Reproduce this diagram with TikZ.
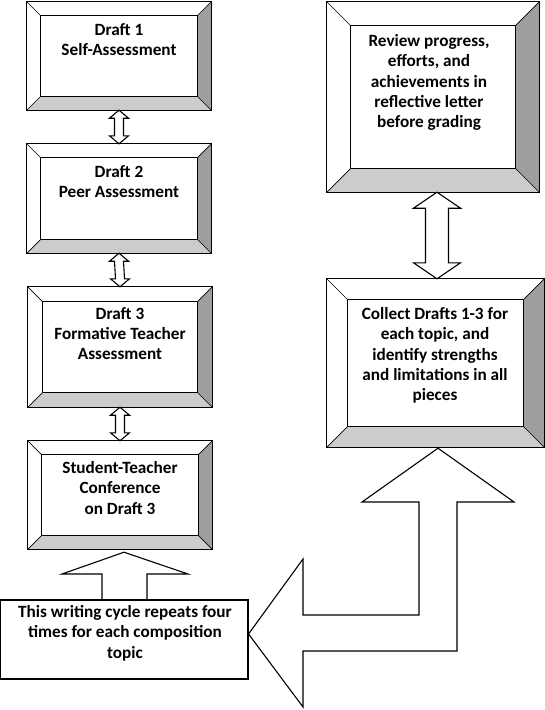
\documentclass[tikz,border=0pt]{standalone}
\usepackage{fontspec}
\setmainfont{Carlito}
\usetikzlibrary{calc,fit}
\definecolor{bevR}{gray}{0.62}
\definecolor{bevB}{gray}{0.8}
\tikzset{
  txt/.style={font=\fontsize{17.2}{20.4}\selectfont\bfseries, align=center, inner sep=0pt, anchor=north},
  fatarrow/.style={draw=black, fill=white, line width=1.1pt, line join=miter},
  outerline/.style={draw=black, line width=1.3pt},
  innerline/.style={draw=black, line width=0.7pt},
}
\newcommand{\bevbox}[6]{%
  \node[fit={(#2,#3) (#4,#5)}, inner sep=0pt, fill=white] (#1) {};
  \coordinate (#1-a) at ($(#1.north west)+(#6,#6)$);
  \coordinate (#1-b) at ($(#1.north east)+(-#6,#6)$);
  \coordinate (#1-c) at ($(#1.south east)+(-#6,-#6)$);
  \coordinate (#1-d) at ($(#1.south west)+(#6,-#6)$);
  \fill[bevR] (#1.north east) -- (#1.south east) -- (#1-c) -- (#1-b) -- cycle;
  \fill[bevB] (#1.south west) -- (#1.south east) -- (#1-c) -- (#1-d) -- cycle;
  \draw[innerline] (#1.north west) -- (#1-a) (#1.north east) -- (#1-b)
     (#1.south east) -- (#1-c) (#1.south west) -- (#1-d);
  \draw[innerline, fill=white] (#1-a) rectangle (#1-c);
  \draw[outerline] (#1.north west) rectangle (#1.south east);
}
\newcommand{\dblarrow}[5]{%
  \draw[fatarrow] (#1) -- ($(#1)+(#3,#5)$) -- ($(#1)+(#4,#5)$) -- ($(#2)+(#4,-#5)$)
   -- ($(#2)+(#3,-#5)$) -- (#2) -- ($(#2)+(-#3,-#5)$) -- ($(#2)+(-#4,-#5)$)
   -- ($(#1)+(-#4,#5)$) -- ($(#1)+(-#3,#5)$) -- cycle;
}
\begin{document}
\begin{tikzpicture}[x=1pt,y=-1pt]
\useasboundingbox (0,0) rectangle (545,710);

% left column
\bevbox{d1}{27}{2}{211}{110}{13.5}
\bevbox{d2}{27}{144}{211}{253}{13.5}
\bevbox{d3}{28}{287}{212}{407}{14.5}
\bevbox{d4}{28}{441}{212}{549}{13.5}
\node[txt] (t1) at (119,23) {Draft 1\\Self-Assessment};
\node[txt] (t2) at (119,165) {Draft 2\\Peer Assessment};
\node[txt] (t3) at (120,307) {Draft 3\\Formative Teacher\\Assessment};
\node[txt] (t4) at (120,461) {Student-Teacher\\Conference\\on Draft 3};

% right column
\bevbox{rA}{327}{2}{539}{192}{24}
\bevbox{rB}{327}{279}{544}{447}{21}
\node[txt] (tA) at (429,34) {Review progress,\\efforts, and\\achievements in\\reflective letter\\before grading};
\node[txt] (tB) at (435,307) {Collect Drafts 1-3 for\\each topic, and\\identify strengths\\and limitations in all\\pieces};

% double arrows
\dblarrow{d1.south}{d2.north}{9.5}{4.5}{8}
\dblarrow{d2.south}{d3.north}{9.5}{4.5}{8}
\dblarrow{d3.south}{d4.north}{9.5}{4.5}{8}
\coordinate (rAa) at ($(rA.south)+(4,0)$);
\coordinate (rBa) at (rAa |- rB.north);
\dblarrow{rAa}{rBa}{23.5}{11.5}{16}

% bottom cycle box
\node[draw=black, line width=1.1pt, fill=white, fit={(0.6,600) (248,679)}, inner sep=0pt] (cyc) {};
\node[txt] (tc) at (125,605) {This writing cycle repeats four\\times for each composition\\topic};

% up arrow into Draft 4 box
\coordinate (upT) at ($(d4.south)+(4,3)$);
\draw[fatarrow] (upT) -- (188,574) -- (147,574) -- (147,600) (102,600) -- (102,574) -- (62,574) -- (upT);

% bent arrow
\coordinate (bT) at ($(rB.south)+(2.5,1)$);
\coordinate (lT) at (cyc.east |- 0,634);
\draw[fatarrow] (bT) -- (514,502) -- (457,502) -- (457,651) -- (303,651) -- (303,707)
  -- (lT) -- (303,559) -- (303,615) -- (419,615) -- (419,502) -- (362,502) -- cycle;
\end{tikzpicture}
\end{document}
